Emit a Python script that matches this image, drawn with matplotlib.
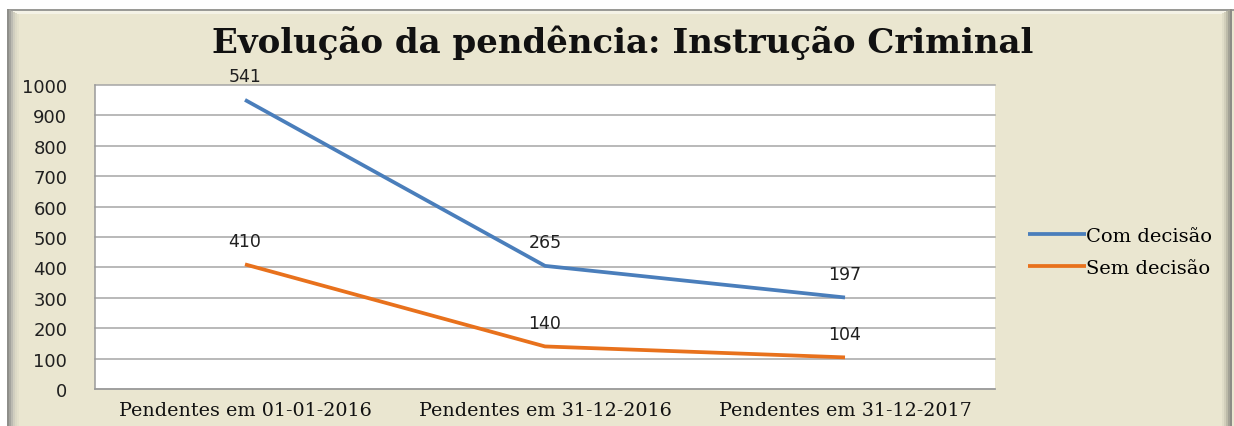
import numpy as np
import matplotlib
matplotlib.use("Agg")
import matplotlib.pyplot as plt
from matplotlib.patches import Rectangle

# data (stacked line chart: "Com decisão" sits on top of "Sem decisão")
categorias = ["Pendentes em 01-01-2016", "Pendentes em 31-12-2016", "Pendentes em 31-12-2017"]
sem_decisao = [410, 140, 104]
com_decisao = [541, 265, 197]
yticks = [0, 100, 200, 300, 400, 500, 600, 700, 800, 900, 1000]

W, H = 1234, 427
fig = plt.figure(figsize=(W / 100, H / 100), dpi=100)
fig.patch.set_facecolor("white")

beige = (0.918, 0.902, 0.816)

def box(x0, y0, w, h, color, z=0):
    # rectangle given in pixel coords (top-left origin)
    r = Rectangle((x0 / W, 1 - (y0 + h) / H), w / W, h / H, transform=fig.transFigure,
                  facecolor=color, edgecolor="none", zorder=z)
    fig.add_artist(r)

# panel with a rough bevel
box(7, 10, 1227, 417, beige, z=0)
box(7, 10, 1227, 2, "#9a9a96", z=1)
box(9, 12, 1223, 3, "#f4f2e6", z=1)
edge_l = ["#8e8e8a", "#a4a49e", "#bcbbb2", "#d0cebf", "#dcd9c6", "#e3e0cb"]
for i, c in enumerate(edge_l):
    box(7 + 2 * i, 10 + i, 2, 417 - i, c, z=2)
edge_r = ["#e0ddc8", "#d2cfbb", "#bdbba9", "#a3a296", "#8c8c86"]
for i, c in enumerate(edge_r):
    box(1222 + 2 * i, 10 + (4 - i), 2, 417, c, z=2)

ax = fig.add_axes([95 / W, 1 - 390 / H, 900 / W, 304 / H])
ax.set_facecolor("white")
ax.set_zorder(3)

x = np.arange(len(categorias))
topo = np.array(sem_decisao) + np.array(com_decisao)

azul = "#4a7ebb"
laranja = "#e8711c"
l1, = ax.plot(x, topo, color=azul, lw=2.7, solid_capstyle="butt", zorder=4)
l2, = ax.plot(x, sem_decisao, color=laranja, lw=2.7, solid_capstyle="butt", zorder=4)

for xi, yi, v in zip(x, topo, com_decisao):
    ax.annotate(str(v), (xi, yi), xytext=(0, 17), textcoords="offset points",
                ha="center", va="center", fontsize=12.5, family="DejaVu Sans", color="#202020",
                annotation_clip=False)
for xi, yi, v in zip(x, sem_decisao, sem_decisao):
    ax.annotate(str(v), (xi, yi), xytext=(0, 17), textcoords="offset points",
                ha="center", va="center", fontsize=12.5, family="DejaVu Sans", color="#202020",
                annotation_clip=False)

ax.set_xlim(-0.5, 2.5)
ax.set_ylim(0, 1000)
ax.set_yticks(yticks)
ax.set_yticklabels([str(t) for t in yticks], fontsize=13, family="DejaVu Sans", color="#202020")
ax.set_xticks(x)
ax.set_xticklabels(categorias, fontsize=13.8, family="DejaVu Serif", color="#111111")
ax.tick_params(axis="both", length=0)
ax.tick_params(axis="y", pad=20)
ax.tick_params(axis="x", pad=9)
ax.grid(axis="y", color="#a6a6a6", lw=1.1, clip_on=False)
ax.set_axisbelow(True)
for s in ["top", "right"]:
    ax.spines[s].set_visible(False)
ax.spines["left"].set_color("#9a9a9a")
ax.spines["bottom"].set_color("#9a9a9a")
ax.spines["left"].set_linewidth(1.1)
ax.spines["bottom"].set_linewidth(1.1)

fig.text(623 / W, 1 - 43 / H, "Evolução da pendência: Instrução Criminal", ha="center", va="center",
         fontsize=24.5, fontweight="bold", family="DejaVu Serif", color="#111111", zorder=5)

leg = fig.legend([l1, l2], ["Com decisão", "Sem decisão"], loc="upper left",
                 bbox_to_anchor=(1010 / W, 1 - 210 / H), frameon=False,
                 prop={"family": "DejaVu Serif", "size": 14}, handlelength=3.0,
                 handletextpad=0.0, labelspacing=0.72)
leg.set_zorder(5)

plt.savefig("out.png", dpi=100, facecolor=fig.get_facecolor())
plt.close()
